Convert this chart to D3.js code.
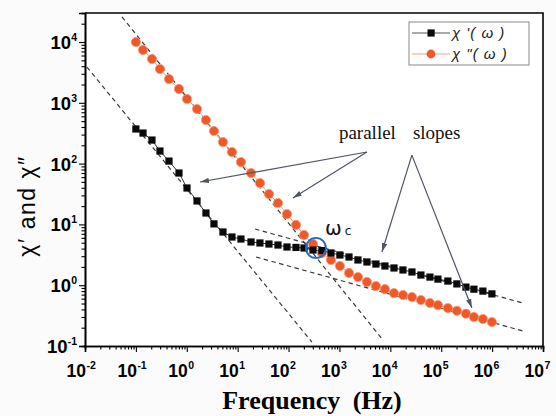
<!DOCTYPE html>
<html>
<head>
<meta charset="utf-8">
<script src="https://cdn.jsdelivr.net/npm/d3@7"></script>
<style>
  body { margin: 0; background: #fff; }
  svg { display: block; }
</style>
</head>
<body>
<svg id="chart" width="556" height="416"></svg>
<script>
// Measurement frequencies (Hz)
const freq = [0.1, 0.138, 0.207, 0.297, 0.447, 0.703, 1.01, 1.59, 2.38, 3.42, 5.14, 7.72,
  11.6, 18.3, 27.4, 41.2, 61.9, 93.1, 140, 201, 302, 453, 681, 1020, 1540, 2310, 3470,
  5210, 7830, 11800, 17700, 26600, 39900, 60000, 86100, 135000, 203000, 306000,
  439000, 659000, 991000];

// Real part χ'(ω)
const chiReal = [371, 318, 244, 161, 110, 70, 39.7, 24.3, 15.4, 10.2, 7.5, 6.2,
  5.75, 5.14, 4.95, 4.76, 4.58, 4.25, 4.18, 4.09, 3.79, 3.72, 3.39, 3.14, 2.91,
  2.60, 2.41, 2.23, 2.07, 1.92, 1.78, 1.65, 1.47, 1.36, 1.26, 1.17, 1.05, 0.93,
  0.86, 0.80, 0.72];

// Imaginary part χ"(ω)
const chiImag = [10000, 7380, 5250, 3600, 2460, 1690, 1155, 791, 521, 344, 226, 155,
  106, 70, 48, 31.6, 22.5, 14.8, 9.8, 6.7, 4.77, 3.39, 2.60, 2.07, 1.59, 1.36,
  1.13, 0.97, 0.86, 0.74, 0.69, 0.64, 0.57, 0.51, 0.47, 0.42, 0.38, 0.34, 0.30,
  0.278, 0.248];

const xTickExponents = [-2, -1, 0, 1, 2, 3, 4, 5, 6, 7];
const yTickExponents = [-1, 0, 1, 2, 3, 4];

const seriesNames = ["χ '( ω )", "χ \"( ω )"];

// Power-law guide lines, each given by two end points [frequency, value]
const slopeLines = [
  [[0.0533, 25800], [7160, 0.1256]],
  [[0.0109, 3880], [288, 0.116]],
  [[21.9, 8.40], [4.03e6, 0.509]],
  [[22.9, 2.91], [4.03e6, 0.1766]]
];

// Crossover point of χ' and χ"
const omegaC = { f: 345, v: 4.1 };

// Annotation text anchors and arrows (data coordinates)
const noteWords = [
  { text: "parallel", f: 977, v: 254 },
  { text: "slopes", f: 27800, v: 254 }
];
const noteArrows = [
  [[3470, 155], [1.82, 49.8]],
  [[3470, 155], [122, 27.2]],
  [[26500, 138], [6840, 3.52]],
  [[26500, 138], [401000, 0.422]]
];

const svg = d3.select("#chart");
const W = 556, H = 416;
const plot = { left: 85, right: 543, top: 13, bottom: 346 };

const x = d3.scaleLog().domain([0.01, 1e7]).range([plot.left, plot.right]);
const y = d3.scaleLog().domain([0.1, 30000]).range([plot.bottom, plot.top]);

const blackCol = "#0a0a0a";
const redCol = "#f0582a";
const guideCol = "#3a3a3a";
const arrowCol = "#4e5566";

svg.append("rect").attr("width", W).attr("height", H).attr("fill", "#fbfbfb");
svg.append("rect")
  .attr("x", plot.left).attr("y", plot.top)
  .attr("width", plot.right - plot.left).attr("height", plot.bottom - plot.top)
  .attr("fill", "#fff");

const defs = svg.append("defs");
defs.append("clipPath").attr("id", "clip")
  .append("rect")
  .attr("x", plot.left).attr("y", plot.top)
  .attr("width", plot.right - plot.left).attr("height", plot.bottom - plot.top);
defs.append("marker")
  .attr("id", "head")
  .attr("viewBox", "0 0 10 6")
  .attr("refX", 10).attr("refY", 3)
  .attr("markerWidth", 9).attr("markerHeight", 5.5)
  .attr("markerUnits", "userSpaceOnUse")
  .attr("orient", "auto")
  .append("path").attr("d", "M0,0L10,3L0,6Z").attr("fill", arrowCol);

// Axes with log minor ticks
const minorVals = (lo, hi) => {
  const out = [];
  for (let e = lo; e < hi; e++) for (let m = 2; m <= 9; m++) out.push(m * Math.pow(10, e));
  return out;
};

const xAxisG = svg.append("g").attr("transform", `translate(0,${plot.bottom})`);
xAxisG.append("g").call(d3.axisBottom(x).tickValues(minorVals(-2, 7)).tickSize(3.5).tickFormat(""));
xAxisG.append("g").call(d3.axisBottom(x).tickValues(xTickExponents.map(e => Math.pow(10, e))).tickSize(6).tickFormat(""));

const yAxisG = svg.append("g").attr("transform", `translate(${plot.left},0)`);
yAxisG.append("g").call(d3.axisLeft(y).tickValues(minorVals(-1, 5).filter(v => v <= 30000)).tickSize(3.5).tickFormat(""));
yAxisG.append("g").call(d3.axisLeft(y).tickValues(yTickExponents.map(e => Math.pow(10, e))).tickSize(6).tickFormat(""));

svg.selectAll(".domain").attr("stroke", "#000").attr("stroke-width", 1.6);
svg.selectAll(".tick line").attr("stroke", "#000").attr("stroke-width", 1.1);

// frame
svg.append("path")
  .attr("d", `M${plot.left},${plot.top}H${plot.right}V${plot.bottom}`)
  .attr("fill", "none").attr("stroke", "#000").attr("stroke-width", 1.6);

// tick labels: 10 with superscript exponent
const labelFont = "'Liberation Sans', Arial, sans-serif";
xTickExponents.forEach(e => {
  const px = x(Math.pow(10, e));
  svg.append("text").attr("x", px + 1).attr("y", 377)
    .attr("text-anchor", "end").attr("font-family", labelFont)
    .attr("font-weight", "bold").attr("font-size", 17.5).text("10");
  svg.append("text").attr("x", px + 1.5).attr("y", 369)
    .attr("font-family", labelFont).attr("font-weight", "bold")
    .attr("font-size", 10.5).text(e);
});
yTickExponents.forEach(e => {
  const py = y(Math.pow(10, e));
  const t = svg.append("text").attr("x", 77).attr("y", py + 7)
    .attr("text-anchor", "end").attr("font-family", labelFont)
    .attr("font-weight", "bold").attr("font-size", 18.5);
  t.append("tspan").text("10");
  t.append("tspan").attr("font-size", 10.5).attr("dy", -8).text(e);
});

// axis titles
svg.append("text")
  .attr("transform", `translate(35,206) rotate(-90)`)
  .attr("text-anchor", "middle")
  .attr("font-family", labelFont).attr("font-size", 23)
  .attr("letter-spacing", 1.5)
  .text("χ′ and χ″");

svg.append("text")
  .attr("x", 312).attr("y", 409)
  .attr("text-anchor", "middle")
  .attr("font-family", "'Liberation Serif', 'Times New Roman', serif")
  .attr("font-weight", "bold").attr("font-size", 26)
  .attr("word-spacing", 6)
  .text("Frequency (Hz)");

// plot content
const g = svg.append("g").attr("clip-path", "url(#clip)");

g.selectAll(".guide").data(slopeLines).join("line")
  .attr("x1", d => x(d[0][0])).attr("y1", d => y(d[0][1]))
  .attr("x2", d => x(d[1][0])).attr("y2", d => y(d[1][1]))
  .attr("stroke", guideCol).attr("stroke-width", 1.2)
  .attr("stroke-dasharray", "4.5,3.5");

const line = d3.line().x(d => x(d[0])).y(d => y(d[1]));
const realPts = freq.map((f, i) => [f, chiReal[i]]);
const imagPts = freq.map((f, i) => [f, chiImag[i]]);

g.append("path").datum(imagPts).attr("d", line)
  .attr("fill", "none").attr("stroke", "#f4a07e").attr("stroke-width", 1);
g.selectAll(".imag").data(imagPts).join("circle")
  .attr("cx", d => x(d[0])).attr("cy", d => y(d[1])).attr("r", 4.6)
  .attr("fill", redCol).attr("stroke", "#f7946a").attr("stroke-width", 0.8);

g.append("path").datum(realPts).attr("d", line)
  .attr("fill", "none").attr("stroke", "#333").attr("stroke-width", 1);
g.selectAll(".real").data(realPts).join("rect")
  .attr("x", d => x(d[0]) - 3.6).attr("y", d => y(d[1]) - 3.6)
  .attr("width", 7.2).attr("height", 7.2).attr("fill", blackCol);

// crossover marker
g.append("circle")
  .attr("cx", x(omegaC.f)).attr("cy", y(omegaC.v)).attr("r", 10)
  .attr("fill", "none").attr("stroke", "#1c6cc4").attr("stroke-width", 1.8);
const wc = svg.append("text")
  .attr("x", x(omegaC.f) + 9).attr("y", y(omegaC.v) - 13)
  .attr("font-family", "'DejaVu Sans', sans-serif").attr("fill", "#111");
wc.append("tspan").attr("font-size", 20).text("ω");
wc.append("tspan").attr("font-size", 12).attr("dx", 3).text("c");

// annotation
noteArrows.forEach(a => {
  svg.append("line")
    .attr("x1", x(a[0][0])).attr("y1", y(a[0][1]))
    .attr("x2", x(a[1][0])).attr("y2", y(a[1][1]))
    .attr("stroke", arrowCol).attr("stroke-width", 1.2)
    .attr("marker-end", "url(#head)");
});
noteWords.forEach(w => {
  svg.append("text").attr("x", x(w.f)).attr("y", y(w.v))
    .attr("font-family", "'Liberation Serif', 'Times New Roman', serif")
    .attr("font-size", 19).attr("fill", "#111").text(w.text);
});

// legend
const lg = svg.append("g").attr("transform", "translate(409,22)");
lg.append("rect").attr("width", 120).attr("height", 43)
  .attr("fill", "#fff").attr("stroke", "#8a8a8a").attr("stroke-width", 1);
[
  { y: 11, col: "#555", mark: "rect" },
  { y: 32, col: "#f4a07e", mark: "circle" }
].forEach((r, i) => {
  lg.append("line").attr("x1", 3).attr("x2", 41).attr("y1", r.y).attr("y2", r.y)
    .attr("stroke", r.col).attr("stroke-width", 1.2);
  if (r.mark === "rect") {
    lg.append("rect").attr("x", 18.5).attr("y", r.y - 3.6).attr("width", 7.2).attr("height", 7.2).attr("fill", blackCol);
  } else {
    lg.append("circle").attr("cx", 22).attr("cy", r.y).attr("r", 4.4).attr("fill", redCol);
  }
  lg.append("text").attr("x", 43).attr("y", r.y + 5)
    .attr("font-family", labelFont).attr("font-style", "italic")
    .attr("font-size", 15).attr("letter-spacing", 1).attr("fill", "#222").text(seriesNames[i]);
});
</script>
</body>
</html>
